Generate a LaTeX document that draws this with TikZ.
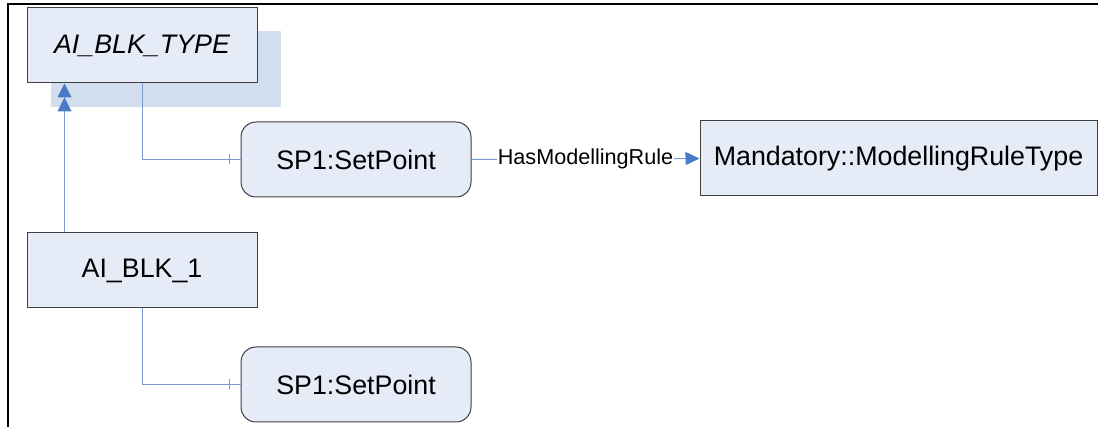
\documentclass[tikz,border=0pt]{standalone}
\usepackage{fontspec}
\setmainfont{Liberation Sans}
\usetikzlibrary{arrows.meta}
\definecolor{boxfill}{HTML}{E6ECF7}
\definecolor{shadowfill}{HTML}{D2DDEE}
\definecolor{boxline}{HTML}{404040}
\definecolor{conn}{HTML}{7B9BD3}
\definecolor{arrowc}{HTML}{4A7AC6}
\begin{document}
\begin{tikzpicture}[x=1pt,y=-1pt,
  objbox/.style={draw=boxline, fill=boxfill, line width=1pt, minimum width=230pt,
    minimum height=75pt, inner sep=0pt, font=\fontsize{26.8}{30}\selectfont},
  varbox/.style={objbox, rounded corners=15pt},
  conline/.style={draw=conn, line width=1pt},
  gentip/.style={-{Triangle[length=14pt,width=14pt,color=arrowc,sep=0pt]Triangle[length=14pt,width=14pt,color=arrowc]}},
  reftip/.style={-{Triangle[length=14pt,width=13pt,color=arrowc]}},
  lbl/.style={fill=white, inner sep=1pt, text=black, font=\fontsize{21.6}{24}\selectfont}]
\useasboundingbox (0,0) rectangle (1098,427);
% frame
\draw[line width=2pt] (8,427) -- (8,4) -- (1098,4);
% shadow of the type box
\fill[shadowfill] (51,31) rectangle (281,107);
% nodes
\node[objbox, font=\fontsize{26.8}{30}\selectfont\itshape] (type) at (142,45.5) {AI\_BLK\_TYPE};
\node[varbox] (sp1) at (356,159.5) {SP1:SetPoint};
\node[objbox, minimum width=397pt] (mand) at (898.5,158.5) {Mandatory::ModellingRuleType};
\node[objbox] (blk1) at (142,270.5) {AI\_BLK\_1};
\node[varbox] (sp2) at (356,384.5) {SP1:SetPoint};
% connectors
\draw[conline] (type.south) |- (sp1.west);
\draw[conline] ([shift={(-11,-5)}]sp1.west) -- ([shift={(-11,5)}]sp1.west);
\draw[conline] (blk1.south) |- (sp2.west);
\draw[conline] ([shift={(-11,-5)}]sp2.west) -- ([shift={(-11,5)}]sp2.west);
\draw[conline, gentip] ([xshift=38pt]blk1.north west) -- ([xshift=38pt]type.south west);
\draw[conline, reftip] (sp1.east) -- node[lbl] {HasModellingRule} (mand.west);
\end{tikzpicture}
\end{document}
